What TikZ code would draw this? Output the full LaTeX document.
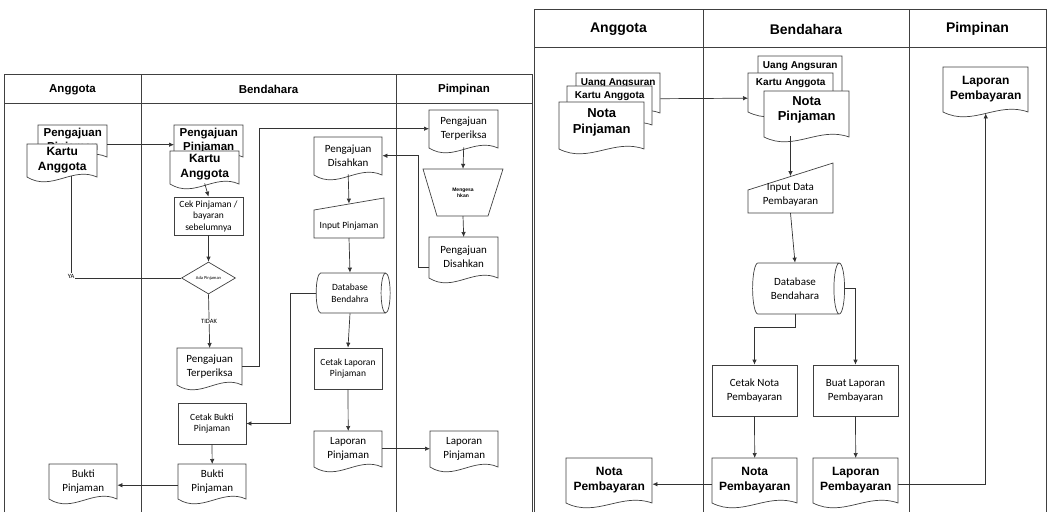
\documentclass[tikz,border=0pt]{standalone}
\usepackage{fontspec}
\setmainfont{Carlito}
\newfontfamily\arialf{Liberation Sans}
\usetikzlibrary{arrows.meta,shapes.geometric}

\tikzset{
  lane/.style={draw=black!75, line width=0.8pt},
  link/.style={draw=black!80, line width=0.7pt},
  arr/.style={link, -{Latex[length=5pt,width=4.5pt]}},
  docline/.style={draw=black!75, line width=0.7pt, fill=white},
  docbody/.style={inner sep=1pt, align=center, font=\fontsize{11}{14}\selectfont},
  proc/.style={draw=black!75, line width=0.7pt, fill=white, align=center, inner sep=1pt, font=\fontsize{9.5}{11.5}\selectfont},
  store/.style={cylinder, draw=black!75, line width=0.7pt, fill=white, align=center, inner sep=1pt, shape aspect=0.45},
  head/.style={font=\arialf\bfseries\fontsize{11.5}{14}\selectfont},
  bighead/.style={font=\arialf\bfseries\fontsize{14}{16}\selectfont},
  pbold/.style={font=\arialf\bfseries\fontsize{11.5}{14}\selectfont},
  kbold/.style={font=\arialf\bfseries\fontsize{12}{15}\selectfont},
  sbold/.style={font=\arialf\bfseries\fontsize{10}{12}\selectfont},
  nbold/.style={font=\arialf\bfseries\fontsize{13}{15.5}\selectfont},
  mbold/.style={font=\arialf\bfseries\fontsize{12}{14.5}\selectfont},
  small/.style={font=\fontsize{9.5}{11.5}\selectfont},
  tiny/.style={font=\fontsize{6.5}{7}\selectfont, fill=white, inner sep=0.5pt},
  toptext/.style={inner ysep=0pt, text height=11pt, text depth=#1},
}

% document shape: [style]{name}{left}{top}{width}{height}{text}
\newcommand\docu[7][]{%
  \draw[docline] (#3,#4) -- ({#3+#5},#4) -- ({#3+#5},{#4+#6-5})
    .. controls ({#3+0.65*#5},{#4+#6-16}) and ({#3+0.35*#5},{#4+#6+10}) .. (#3,{#4+#6-5}) -- cycle;
  \node[docbody, minimum width=#5, minimum height={#6-6}, anchor=north west, #1] (#2) at (#3,#4) {#7};
}

\begin{document}
\begin{tikzpicture}[x=1pt,y=-1pt]
\useasboundingbox (0,0) rectangle (1049,512);

% ---- pinjaman lanes
\draw[lane] (4,512) -- (4,74) -- (532,74) -- (532,512);
\draw[lane] (4,103) -- (532,103);
\draw[lane] (141,74) -- (141,512);
\draw[lane] (396,74) -- (396,512);
\node[head] (hA1) at (72.5,89.5) {Anggota};
\node[head] (hB1) at (268.5,89.5) {Bendahara};
\node[head] (hP1) at (464,89.5) {Pimpinan};

% anggota
\docu[pbold]{aPP}{38}{125}{69}{37}{Pengajuan\\Pinjaman}
\docu[kbold]{aKA}{27}{144}{70}{38}{Kartu\\Anggota}
\docu{aBP}{49}{464}{68}{40}{Bukti\\Pinjaman}

% bendahara
\docu[pbold]{bPP}{174}{125}{69}{37}{Pengajuan\\Pinjaman}
\docu[kbold]{bKA}{170}{151}{69}{38}{Kartu\\Anggota}
\node[proc, minimum width=69, minimum height=38] (bCek) at (208.5,216) {Cek Pinjaman /\\bayaran\\sebelumnya};
\node[diamond, draw=black!75, line width=0.7pt, fill=white, aspect=1.7, minimum width=54, minimum height=32, inner sep=0pt, font=\fontsize{4.5}{5}\selectfont] (dia) at (208.5,278) {Ada Pinjaman};
\docu{bPT}{177}{348}{65}{42}{Pengajuan\\Terperiksa}
\node[proc, minimum width=68, minimum height=41] (bCB) at (212,423.5) {Cetak Bukti\\Pinjaman};
\docu{bBP}{178}{464}{68}{40}{Bukti\\Pinjaman}

\docu{bPD}{314}{137}{68}{43}{Pengajuan\\Disahkan}
\draw[docline] (314,210) -- (384,198) -- (384,238) -- (314,238) -- cycle;
\node[docbody, small, minimum width=70, minimum height=34, text height=24pt, text depth=8pt, inner ysep=1pt, anchor=south] (inp) at (349,238) {Input Pinjaman};
\node[store, small, minimum width=40, minimum height=74] (db) at (350,293) {Database\\Bendahra};
\node[proc, minimum width=68, minimum height=41] (bCL) at (348,368.5) {Cetak Laporan\\Pinjaman};
\docu{bLP}{314}{431}{68}{41}{Laporan\\Pinjaman}

% pimpinan
\docu{pPT}{429}{110}{69}{43}{Pengajuan\\Terperiksa}
\draw[docline] (423,169) -- (503,169) -- (488,216) -- (437,216) -- cycle;
\node[inner sep=0pt, minimum width=51, minimum height=47, align=center, font=\arialf\bfseries\fontsize{5}{6}\selectfont] (mgs) at (463,192.5) {Mengesa\\hkan};
\docu{pPD}{429}{237}{69}{46}{Pengajuan\\Disahkan}
\docu{pLP}{430}{431}{68}{41}{Laporan\\Pinjaman}

% alur pinjaman
\draw[arr] ([yshift=-4pt]aPP.east) -- ([yshift=-4pt]bPP.west);
\draw[arr] (bKA.south) -- (bCek.north);
\draw[arr] (bCek.south) -- (dia.north);
\draw[link] (dia.west) -| ([xshift=9pt]aKA.south) node[pos=0.5, tiny, yshift=2pt] (ya) {YA};
\draw[arr] (dia.south) -- (bPT.north) node[midway, tiny] (tidak) {TIDAK};
\draw[arr] (bPT.east) -- ++(17,0) |- (pPT.west);
\draw[arr] (pPT.south) -- (mgs.north);
\draw[arr] (mgs.south) -- (pPD.north);
\draw[arr] ([yshift=-10pt]pPD.west) -- ++(-11,0) |- (bPD.east);
\draw[arr] (bPD.south) -- (inp.north);
\draw[arr] (inp.south) -- (db.north);
\draw[arr] (db.south) -- (bCL.north);
\draw[arr] (bCL.south) -- (bLP.north);
\draw[arr] (bLP.east) -- (pLP.west);
\draw[arr] (db.west) -- ++(-25,0) |- (bCB.east);
\draw[arr] (bCB.south) -- (bBP.north);
\draw[arr] ([yshift=-4pt]bBP.west) -- ([yshift=-4pt]aBP.east);

% ---- pembayaran lanes
\draw[lane] (534,512) -- (534,9) -- (1046,9) -- (1046,512);
\draw[lane] (534,47) -- (1046,47);
\draw[lane] (703,9) -- (703,512);
\draw[lane] (909,9) -- (909,512);
\node[bighead] (hA2) at (618.5,29) {Anggota};
\node[bighead] (hB2) at (806,29) {Bendahara};
\node[bighead] (hP2) at (977.5,29) {Pimpinan};

% anggota
\docu[sbold, toptext=26pt]{raUA}{576}{73}{84}{45}{Uang Angsuran}
\docu[sbold, toptext=25pt]{raKA}{567}{86}{85}{44}{Kartu Anggota}
\docu[nbold, yshift=3pt]{raNP}{559}{102}{85}{52}{Nota\\Pinjaman}
\docu[mbold]{raNB}{566}{458}{86}{50}{Nota\\Pembayaran}

% bendahara
\docu[sbold, toptext=25pt]{rbUA}{758}{56}{84}{44}{Uang Angsuran}
\docu[sbold, toptext=25pt]{rbKA}{748}{73}{85}{44}{Kartu Anggota}
\docu[nbold, yshift=4pt]{rbNP}{764}{91}{85}{51}{Nota\\Pinjaman}
\draw[docline] (748,190) -- (833,163) -- (833,213) -- (748,213) -- cycle;
\node[docbody, minimum width=85, minimum height=36.5, anchor=south] (inp2) at (790.5,213) {Input Data\\Pembayaran};
\node[store, docbody, draw=black!75, minimum width=51, minimum height=92] (db2) at (795,288.5) {Database\\Bendahara};
\node[proc, docbody, draw=black!75, minimum width=85, minimum height=51] (rCN) at (754.5,390.5) {Cetak Nota\\Pembayaran};
\node[proc, docbody, draw=black!75, minimum width=85, minimum height=51] (rBL) at (855.5,390.5) {Buat Laporan\\Pembayaran};
\docu[mbold]{rNP}{712}{458}{85}{50}{Nota\\Pembayaran}
\docu[mbold]{rLP}{813}{458}{85}{50}{Laporan\\Pembayaran}

% pimpinan
\docu[mbold]{rpLP}{943}{67}{85}{50}{Laporan\\Pembayaran}

% alur pembayaran
\draw[arr] ([yshift=-6pt]raUA.east) -- ([yshift=-6pt]rbKA.west);
\draw[arr] (rbNP.south -| inp2.north) ++(0,4) -- (inp2.north);
\draw[arr] (inp2.south) -- (db2.north);
\draw[arr] (db2.south) -- ++(0,13) -| (rCN.north);
\draw[arr] (db2.east) -| (rBL.north);
\draw[arr] (rCN.south) -- (rNP.north);
\draw[arr] (rBL.south) -- (rLP.north);
\draw[arr] ([yshift=-4pt]rNP.west) -- ([yshift=-4pt]raNB.east);
\draw[arr] ([yshift=-4pt]rLP.east) -| ([yshift=-2pt]rpLP.south);

\end{tikzpicture}
\end{document}
